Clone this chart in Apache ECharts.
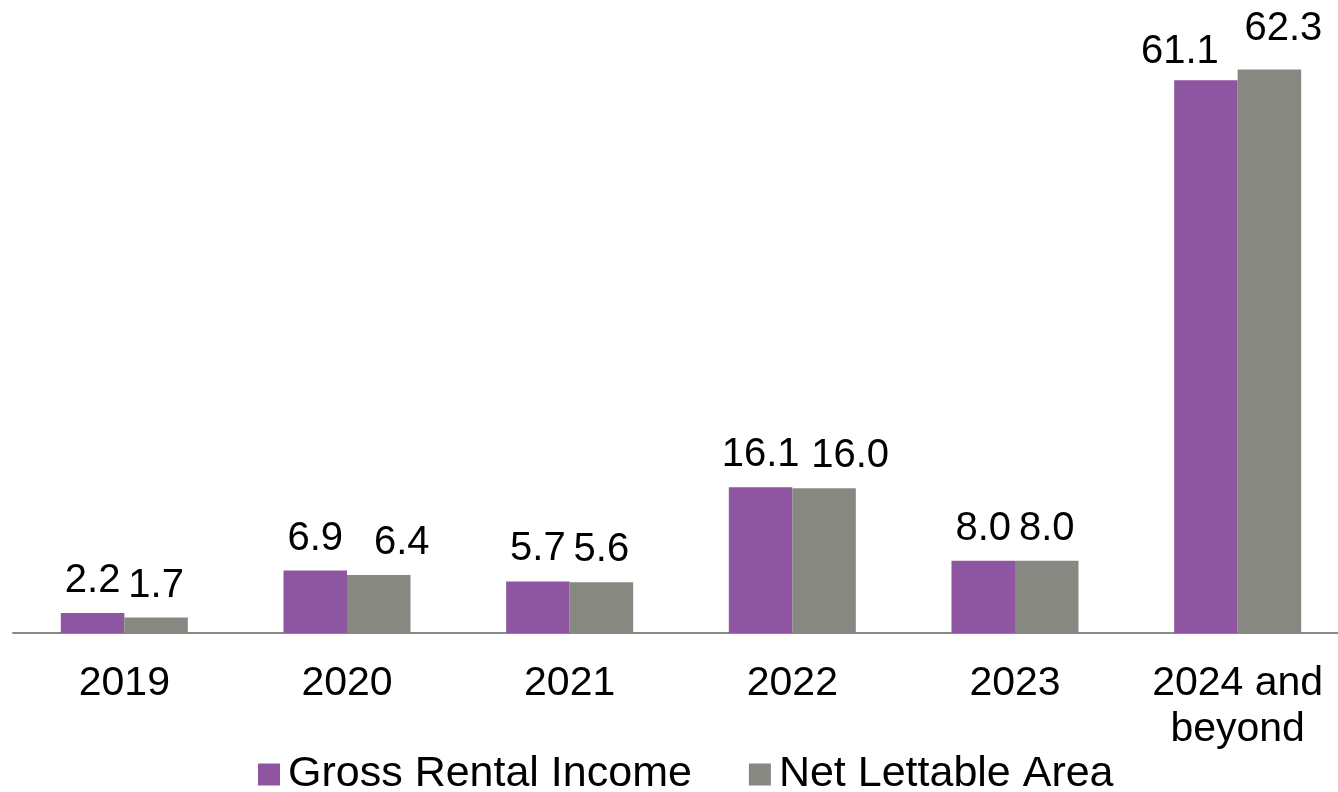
<!DOCTYPE html>
<html>
<head>
<meta charset="utf-8">
<script src="https://cdn.jsdelivr.net/npm/echarts@6/dist/echarts.min.js"></script>
<style>
    html, body { margin: 0; padding: 0; background: #fff; }
    #chart { width: 1338px; height: 792px; }
</style>
</head>
<body>
<div id="chart"></div>
<script>
// Data
const categories = ["2019", "2020", "2021", "2022", "2023", "2024 and\nbeyond"];
const grossRentalIncome = [2.2, 6.9, 5.7, 16.1, 8.0, 61.1];
const netLettableArea = [1.7, 6.4, 5.6, 16.0, 8.0, 62.3];

// Label nudges seen in the original (to keep labels from touching)
const grossLabelShift = [[0, 0], [0, 0], [0, 0], [0, 0], [0, 0], [-26, 4]];
const netLabelShift = [[0, 0], [23, 0], [0, 0], [26, 0], [0, 0], [14, -8]];

const FONT = "'Liberation Sans', Arial, sans-serif";

function withLabels(values, shifts) {
    return values.map((v, i) => ({
        value: v,
        label: { offset: shifts[i] }
    }));
}

const chart = echarts.init(document.getElementById("chart"));

const labelStyle = {
    show: true,
    position: "top",
    distance: 12,
    fontFamily: FONT,
    fontSize: 40,
    color: "#000",
    formatter: p => p.value.toFixed(1)
};

chart.setOption({
    backgroundColor: "#ffffff",
    animation: false,
    grid: { left: 13, width: 1336, top: 45, bottom: 159, outerBoundsMode: "none" },
    legend: {
        left: 258,
        top: 753,
        padding: 0,
        icon: "rect",
        itemWidth: 22,
        itemHeight: 22,
        itemGap: 57,
        textStyle: { fontFamily: FONT, fontSize: 43, color: "#000", padding: [0, 0, 0, 3] },
        data: ["Gross Rental Income", "Net Lettable Area"]
    },
    xAxis: {
        type: "category",
        data: categories,
        axisLine: { lineStyle: { color: "#898989", width: 2 } },
        axisTick: { show: false },
        axisLabel: {
            fontFamily: FONT,
            fontSize: 41,
            lineHeight: 46,
            color: "#000",
            margin: 28,
            interval: 0
        }
    },
    yAxis: {
        type: "value",
        min: 0,
        max: 65,
        show: false
    },
    series: [
        {
            name: "Gross Rental Income",
            type: "bar",
            barWidth: 63.5,
            barGap: "0%",
            itemStyle: { color: "#8E55A0" },
            label: labelStyle,
            data: withLabels(grossRentalIncome, grossLabelShift)
        },
        {
            name: "Net Lettable Area",
            type: "bar",
            barWidth: 63.5,
            barGap: "0%",
            itemStyle: { color: "#878882" },
            label: labelStyle,
            data: withLabels(netLettableArea, netLabelShift)
        }
    ]
});

window.addEventListener("resize", () => chart.resize());
</script>
</body>
</html>
